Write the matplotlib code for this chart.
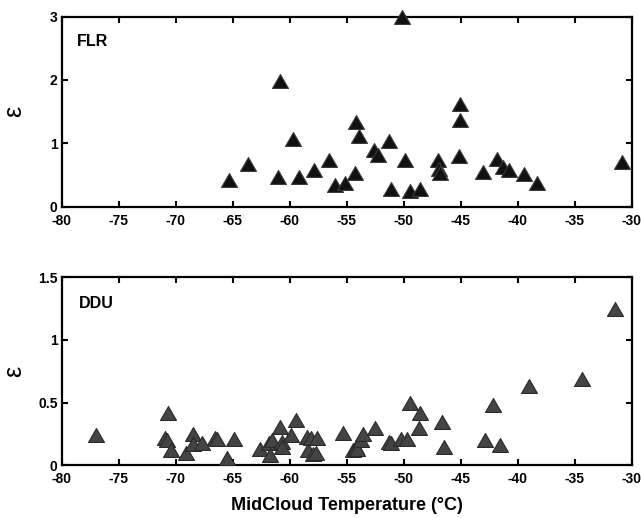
import matplotlib.pyplot as plt

# FLR site: mid-cloud temperature (deg C) and epsilon
flr_temp = [-65.3, -63.7, -60.85, -61.0, -59.7, -59.2, -57.9, -56.6, -56.0, -55.15,
            -54.25, -54.2, -53.9, -52.6, -52.25, -51.3, -51.1, -50.2, -49.9, -49.5,
            -48.6, -47.0, -46.9, -46.8, -45.1, -45.1, -45.2, -43.1, -41.8, -41.3,
            -40.8, -39.45, -38.3, -30.85]
flr_eps = [0.42, 0.67, 1.99, 0.46, 1.06, 0.46, 0.57, 0.74, 0.34, 0.37,
           0.53, 1.33, 1.12, 0.90, 0.82, 1.04, 0.27, 3.0, 0.73, 0.24,
           0.28, 0.74, 0.60, 0.53, 1.62, 1.36, 0.80, 0.55, 0.75, 0.62,
           0.57, 0.51, 0.38, 0.70]

# DDU site
ddu_temp = [-77.0, -70.7, -70.9, -70.8, -70.4, -69.1, -68.5, -68.5, -67.7, -66.6,
            -66.4, -65.5, -64.85, -62.6, -61.8, -61.7, -61.6, -60.85, -60.7, -60.65,
            -59.9, -59.5, -58.5, -58.4, -58.1, -58.0, -57.7, -57.6, -55.35, -54.5,
            -54.2, -54.1, -53.8, -53.55, -52.5, -51.3, -51.1, -50.25, -49.7, -49.5,
            -48.6, -48.7, -46.7, -46.5, -42.9, -42.2, -41.55, -39.0, -34.4, -31.5]
ddu_eps = [0.24, 0.415, 0.22, 0.20, 0.12, 0.10, 0.25, 0.17, 0.18, 0.22,
           0.21, 0.06, 0.21, 0.13, 0.18, 0.08, 0.20, 0.31, 0.19, 0.15,
           0.24, 0.36, 0.23, 0.12, 0.22, 0.09, 0.10, 0.22, 0.26, 0.12,
           0.15, 0.13, 0.20, 0.25, 0.30, 0.19, 0.18, 0.21, 0.21, 0.50,
           0.42, 0.30, 0.35, 0.15, 0.20, 0.48, 0.16, 0.63, 0.69, 1.25]

xticks = [-80, -75, -70, -65, -60, -55, -50, -45, -40, -35, -30]
flr_yticks = [0, 1, 2, 3]
ddu_yticks = [0, 0.5, 1, 1.5]
ddu_ylabels = ['0', '0.5', '1', '1.5']

plt.rcParams['font.family'] = ['Liberation Sans', 'DejaVu Sans']

# slightly flattened triangle
tri = [(0, 0.87), (-1, -0.87), (1, -0.87), (0, 0.87)]

fig = plt.figure(figsize=(6.42, 5.18), dpi=100)
ax1 = fig.add_axes([0.0961, 0.6012, 0.8883, 0.3668])
ax2 = fig.add_axes([0.0961, 0.1015, 0.8883, 0.3632])


def style(ax, yticks, ylabels):
    ax.set_xlim(-80, -30)
    ax.set_xticks(xticks)
    ax.set_xticklabels([str(t) for t in xticks], fontsize=10, fontweight='bold')
    ax.set_yticks(yticks)
    ax.set_yticklabels(ylabels, fontsize=10, fontweight='bold')
    ax.tick_params(direction='in', length=4, width=1.5, top=True, right=True,
                   pad=3)
    ax.tick_params(axis='x', pad=5)
    for s in ax.spines.values():
        s.set_linewidth(1.6)
    ax.set_ylabel('ε', fontsize=18)
    ax.yaxis.set_label_coords(-0.062, 0.5)


ax1.plot(flr_temp, flr_eps, linestyle='none', marker=tri, markersize=11.5,
         markerfacecolor='#111111', markeredgecolor='#3a3a3a',
         markeredgewidth=0.8, clip_on=False, zorder=3)
ax1.set_ylim(0, 3)
style(ax1, flr_yticks, [str(t) for t in flr_yticks])
ax1.text(0.027, 0.87, 'FLR', transform=ax1.transAxes, fontsize=11.5,
         fontweight='bold', va='center', ha='left')

ax2.plot(ddu_temp, ddu_eps, linestyle='none', marker=tri, markersize=11.5,
         markerfacecolor='#444444', markeredgecolor='#2a2a2a',
         markeredgewidth=0.8, clip_on=False, zorder=3)
ax2.set_ylim(0, 1.5)
style(ax2, ddu_yticks, ddu_ylabels)
ax2.text(0.030, 0.863, 'DDU', transform=ax2.transAxes, fontsize=11.5,
         fontweight='bold', va='center', ha='left')
ax2.set_xlabel('MidCloud Temperature (°C)', fontsize=13, fontweight='bold',
               labelpad=8)

fig.savefig('out.png', dpi=100)
